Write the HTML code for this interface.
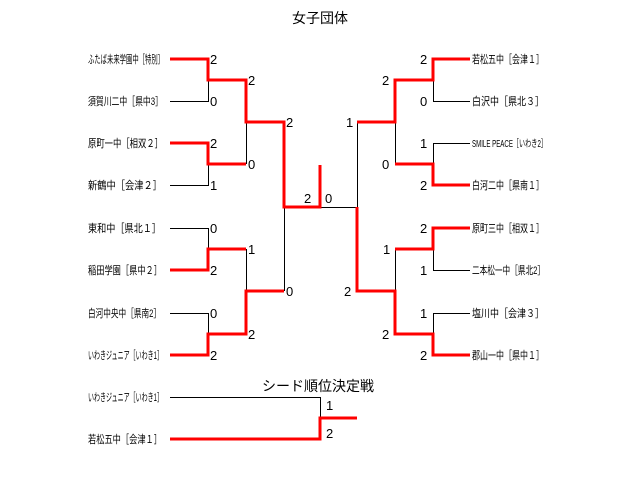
<!DOCTYPE html>
<html><head><meta charset="utf-8"><style>
html,body{margin:0;padding:0;background:#fff;}
svg{display:block;}
text{font-family:"Liberation Sans","Noto Sans CJK JP",sans-serif;fill:#000;}
.l{font-size:11px;}
.s{font-size:13px;}
</style></head><body>
<svg width="640" height="481" viewBox="0 0 640 481" xmlns="http://www.w3.org/2000/svg">
<text x="320" y="23" font-size="14" text-anchor="middle">女子団体</text>
<g fill="none" stroke="#000" stroke-width="1" shape-rendering="crispEdges">
<path d="M170 101.5H208.5V80M170 185.5H208.5V164M170 228.5H208.5V249M170 313.5H208.5V334"/>
<path d="M246.5 122V164M246.5 249V291M284.5 207V291"/>
<path d="M320 207.5H357.5V122M470 101.5H433.5V80M470 143.5H433.5V164M470 270.5H433.5V249M470 313.5H433.5V334"/>
<path d="M395.5 122V164M395.5 249V291"/>
<path d="M170 397.5H320.5V418"/>
</g>
<g fill="none" stroke="#f00" stroke-width="3" shape-rendering="crispEdges">
<path d="M170 59H208V80H246V122H284V207H320V165"/>
<path d="M170 143H208V164H246"/>
<path d="M170 270H208V249H246"/>
<path d="M170 355H208V334H246V291H284"/>
<path d="M470 59H433V80H395V122H357"/>
<path d="M470 185H433V164H395"/>
<path d="M470 228H433V249H395"/>
<path d="M470 355H433V334H395V291H357V207"/>
<path d="M170 439H320V418H357"/>
</g>
<g class="l">
<text x="88" y="63" textLength="76" lengthAdjust="spacingAndGlyphs">ふたば未来学園中［特別］</text>
<text x="88" y="105" textLength="75" lengthAdjust="spacingAndGlyphs">須賀川二中［県中3］</text>
<text x="88" y="147" textLength="75" lengthAdjust="spacingAndGlyphs">原町一中［相双２］</text>
<text x="88" y="189" textLength="74" lengthAdjust="spacingAndGlyphs">新鶴中［会津２］</text>
<text x="88" y="232" textLength="73" lengthAdjust="spacingAndGlyphs">東和中［県北１］</text>
<text x="88" y="274" textLength="74" lengthAdjust="spacingAndGlyphs">稲田学園［県中２］</text>
<text x="88" y="317" textLength="73" lengthAdjust="spacingAndGlyphs">白河中央中［県南2］</text>
<text x="88" y="359" textLength="75" lengthAdjust="spacingAndGlyphs">いわきジュニア［いわき1］</text>
<text x="472" y="63" textLength="72" lengthAdjust="spacingAndGlyphs">若松五中［会津１］</text>
<text x="472" y="105" textLength="72" lengthAdjust="spacingAndGlyphs">白沢中［県北３］</text>
<text x="472" y="147" textLength="75" lengthAdjust="spacingAndGlyphs" font-size="10">SMILE PEACE［いわき2］</text>
<text x="472" y="189" textLength="72" lengthAdjust="spacingAndGlyphs">白河二中［県南１］</text>
<text x="472" y="232" textLength="72" lengthAdjust="spacingAndGlyphs">原町三中［相双１］</text>
<text x="472" y="274" textLength="73" lengthAdjust="spacingAndGlyphs">二本松一中［県北2］</text>
<text x="472" y="317" textLength="72" lengthAdjust="spacingAndGlyphs">塩川中［会津３］</text>
<text x="472" y="359" textLength="72" lengthAdjust="spacingAndGlyphs">郡山一中［県中１］</text>
<text x="88" y="401" textLength="75" lengthAdjust="spacingAndGlyphs">いわきジュニア［いわき1］</text>
<text x="88" y="443" textLength="74" lengthAdjust="spacingAndGlyphs">若松五中［会津１］</text>
</g>
<g class="s">
<text x="210" y="64">2</text><text x="210" y="106">0</text>
<text x="210" y="148">2</text><text x="210" y="190">1</text>
<text x="210" y="233">0</text><text x="210" y="275">2</text>
<text x="210" y="318">0</text><text x="210" y="360">2</text>
<text x="248" y="85">2</text><text x="248" y="169">0</text>
<text x="248" y="254">1</text><text x="248" y="339">2</text>
<text x="286" y="127">2</text><text x="286" y="296">0</text>
<text x="304" y="203">2</text><text x="325" y="203">0</text>
<text x="420" y="64">2</text><text x="420" y="106">0</text>
<text x="420" y="148">1</text><text x="420" y="190">2</text>
<text x="420" y="233">2</text><text x="420" y="275">1</text>
<text x="420" y="318">1</text><text x="420" y="360">2</text>
<text x="382" y="85">2</text><text x="382" y="169">0</text>
<text x="383" y="254">1</text><text x="382" y="339">2</text>
<text x="346" y="127">1</text><text x="344" y="296">2</text>
<text x="326" y="410">1</text><text x="326" y="438">2</text>
</g>
<text x="262" y="391" font-size="14">シード順位決定戦</text>
</svg>
</body></html>
